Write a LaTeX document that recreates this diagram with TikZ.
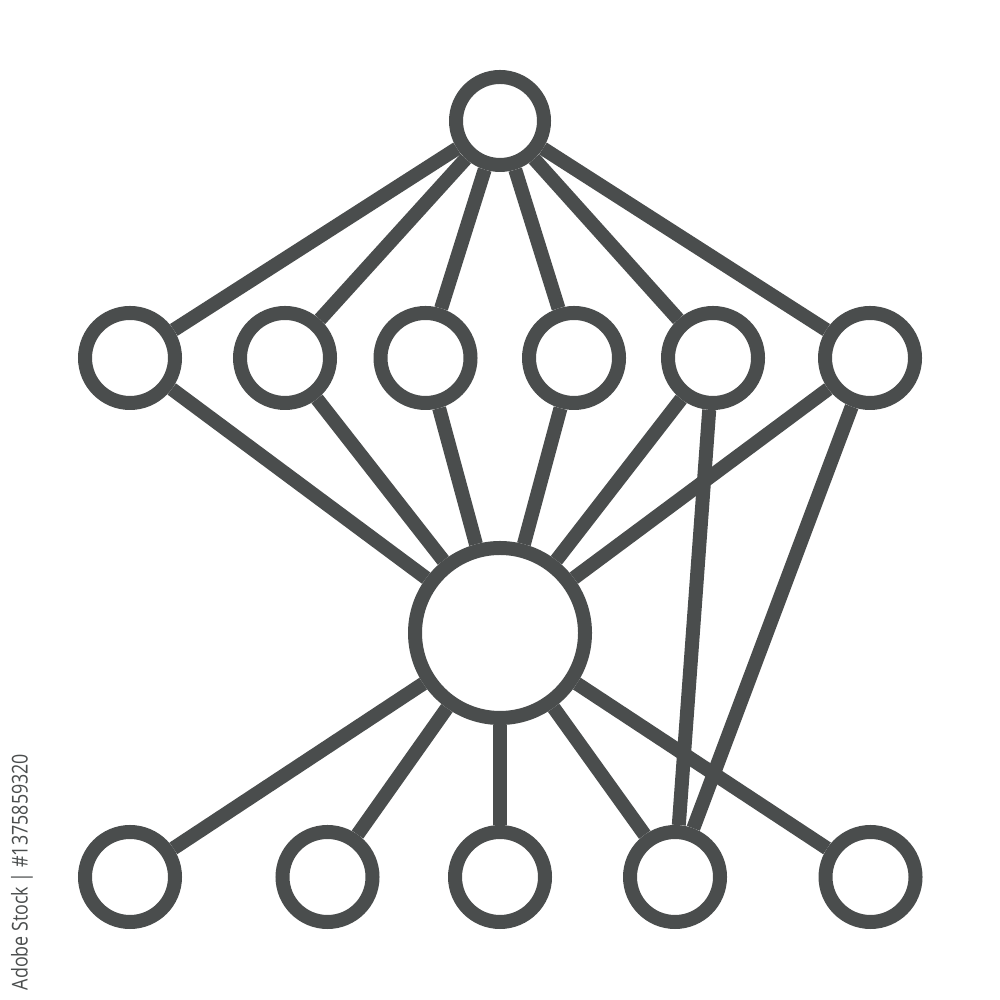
\documentclass[tikz,border=0pt]{standalone}
\usepackage{fontspec}
\usepackage{tikz}
\newfontfamily\stockfont{Open Sans}
\definecolor{icongray}{RGB}{74,77,77}

\begin{document}
\begin{tikzpicture}
	\tikzstyle{unit} = [circle, draw=icongray, line width=0.14cm, fill=white, inner sep=0pt, minimum size=0.9cm];
	\tikzstyle{link} = [draw=icongray, line width=0.14cm];
	\useasboundingbox (0,0) rectangle (10,10);
	% nodes
	\node (top) [unit, minimum size=0.88cm] at (5,8.79) {};
	\node (m1) [unit] at (1.30,6.42) {};
	\node (m2) [unit] at (2.85,6.42) {};
	\node (m3) [unit] at (4.255,6.42) {};
	\node (m4) [unit] at (5.74,6.42) {};
	\node (m5) [unit] at (7.13,6.42) {};
	\node (m6) [unit] at (8.70,6.42) {};
	\node (hub) [unit, minimum size=1.70cm] at (5,3.67) {};
	\node (b1) [unit] at (1.30,1.23) {};
	\node (b2) [unit] at (3.275,1.23) {};
	\node (b3) [unit] at (5,1.23) {};
	\node (b4) [unit] at (6.75,1.23) {};
	\node (b5) [unit] at (8.705,1.23) {};
	% links
	\foreach \m in {m1,m2,m3,m4,m5,m6} {
		\draw [link] (top) -- (\m);
		\draw [link] (\m) -- (hub);
	}
	\foreach \b in {b1,b2,b3,b4,b5} {
		\draw [link] (hub) -- (\b);
	}
	\draw [link] (m5) -- (b4);
	\draw [link] (m6) -- (b4);
	% stock label
	\node (stock) [rotate=90, xscale=0.82, text=icongray, inner sep=0pt, font=\stockfont\fontsize{6.2}{7}\selectfont] at (0.22,1.28) {Adobe Stock | \#1375859320};
\end{tikzpicture}
\end{document}
